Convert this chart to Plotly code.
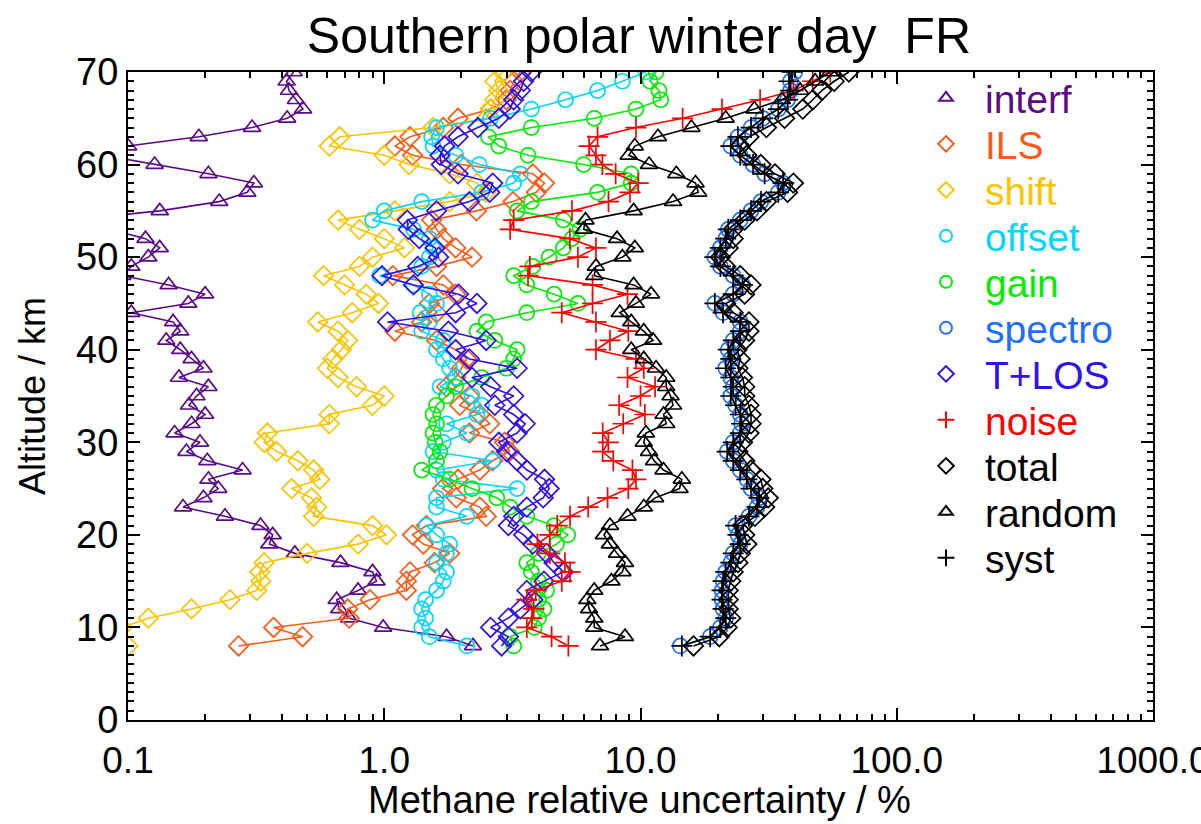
import plotly.graph_objects as go

altitude = list(range(8, 71))

interf = [2.22, 1.75, 0.99, 0.73, 0.667, 0.652, 0.79, 0.933, 0.90, 0.675, 0.448, 0.356, 0.367, 0.329, 0.239,
          0.164, 0.197, 0.225, 0.206, 0.28, 0.204, 0.169, 0.191, 0.152, 0.177, 0.2, 0.173, 0.185, 0.206,
          0.158, 0.197, 0.177, 0.16, 0.141, 0.16, 0.150, 0.103, 0.172, 0.2, 0.144, 0.095, 0.103, 0.120,
          0.133, 0.117, 0.085, 0.06, 0.133, 0.227, 0.292, 0.31, 0.206, 0.127, 0.08, 0.1, 0.189, 0.305,
          0.418, 0.482, 0.452, 0.425, 0.416, 0.443]
ils = [0.27, 0.48, 0.37, 0.73, 0.72, 0.88, 1.22, 1.22, 1.26, 1.57, 1.8, 1.42, 1.29, 1.46, 2.5, 2.36, 1.91,
       1.69, 1.94, 2.36, 2.65, 3.08, 2.95, 2.15, 2.58, 2.36, 1.97, 2.15, 1.75, 1.9, 2.0, 2.1, 1.9, 1.6, 1.1,
       1.4, 1.6, 1.5, 1.9, 1.7, 1.08, 1.6, 2.2, 1.9, 1.7, 1.6, 1.53, 2.29, 3.18, 3.92, 4.22, 3.8, 2.0, 1.29,
       1.10, 1.26, 1.7, 1.94, 2.6, 3.0, 3.1, 3.2, 3.4]
shift = [0.1, 0.09, 0.095, 0.12, 0.177, 0.25, 0.318, 0.33, 0.327, 0.34, 0.5, 0.79, 1.02, 0.9, 0.53, 0.545,
         0.52, 0.435, 0.56, 0.53, 0.46, 0.38, 0.34, 0.35, 0.61, 0.61, 0.9, 1.0, 0.78, 0.66, 0.6, 0.63, 0.68,
         0.72, 0.66, 0.55, 0.75, 0.95, 0.85, 0.7, 0.58, 0.8, 0.9, 1.2, 1.0, 0.8, 0.66, 1.1, 1.8, 2.5, 2.3,
         1.8, 1.25, 1.0, 0.61, 0.67, 1.55, 2.5, 2.6, 2.7, 2.8, 2.7, 2.9]
offset = [2.1, 1.5, 1.4, 1.45, 1.4, 1.45, 1.6, 1.7, 1.75, 1.6, 1.75, 1.8, 1.6, 1.46, 2.1, 1.6, 1.6, 3.3,
          1.7, 1.6, 2.65, 1.55, 1.7, 2.1, 1.75, 2.3, 2.4, 2.2, 1.65, 1.9, 1.8, 1.7, 1.6, 1.7, 1.4, 1.5, 1.38,
          1.6, 1.5, 1.3, 0.96, 1.4, 1.5, 1.55, 1.5, 1.3, 0.9, 1.0, 1.4, 2.4, 3.2, 3.4, 2.35, 1.9, 1.55, 1.53,
          1.6, 2.6, 3.75, 5.1, 6.8, 8.5, 10.5]
gain = [3.2, 3.1, 3.85, 4.0, 4.2, 4.0, 4.3, 4.0, 3.75, 3.6, 4.0, 4.7, 5.2, 4.6, 3.6, 3.1, 2.75, 2.2, 1.8,
        1.4, 1.6, 1.65, 1.58, 1.55, 1.6, 1.55, 1.6, 1.75, 1.9, 2.4, 3.0, 3.2, 3.3, 2.7, 2.3, 2.5, 3.6, 5.7,
        4.6, 3.6, 3.2, 3.8, 4.4, 5.0, 5.4, 5.8, 5.0, 3.3, 3.75, 6.8, 9.2, 9.2, 6.0, 3.64, 2.8, 2.55, 3.75,
        6.6, 9.6, 12.0, 11.8, 10.9, 11.5]
spectro = [14.3, 18.7, 20.5, 21.5, 21.0, 20.8, 20.8, 21.0, 21.5, 22.5, 23.0, 24.5, 24.0, 23.5, 26.5, 28.5,
           29.0, 27.0, 26.0, 24.5, 23.0, 21.8, 23.0, 24.5, 24.8, 24.5, 23.5, 22.5, 23.0, 22.5, 21.5, 22.5,
           22.0, 23.0, 24.5, 24.5, 21.0, 19.5, 23.0, 25.0, 23.0, 20.5, 19.5, 20.5, 21.5, 22.0, 24.5, 27.0,
           29.5, 34.5, 36.0, 30.5, 27.5, 24.5, 22.5, 24.0, 27.0, 30.0, 34.5, 37.5, 38.5, 38.5, 40.0]
tlos = [2.87, 3.05, 2.6, 3.05, 3.4, 3.8, 3.6, 4.2, 5.0, 4.6, 4.3, 3.8, 3.5, 3.05, 3.2, 3.6, 4.17, 4.4, 4.22,
        3.6, 3.3, 3.0, 2.8, 3.3, 3.55, 3.2, 2.7, 3.2, 2.6, 2.2, 3.3, 2.15, 1.9, 2.5, 1.78, 1.03, 1.9, 2.3,
        1.95, 1.3, 0.98, 1.35, 1.63, 1.58, 1.37, 1.24, 1.23, 1.6, 2.15, 2.58, 2.65, 1.94, 1.67, 1.65, 1.72,
        1.94, 2.32, 2.8, 3.1, 3.2, 3.4, 3.5, 3.75]
noise = [5.23, 4.5, 3.6, 3.77, 3.83, 3.6, 3.9, 4.93, 5.31, 5.07, 4.43, 3.96, 4.43, 4.73, 5.31, 6.25, 7.44,
         8.96, 9.6, 9.3, 7.83, 7.12, 7.49, 7.12, 8.56, 10.4, 8.25, 10.0, 11.4, 8.9, 10.3, 9.6, 6.7, 7.6, 8.96,
         6.7, 4.93, 6.5, 8.9, 6.5, 3.64, 3.7, 5.7, 6.7, 5.3, 3.1, 3.2, 5.4, 7.5, 9.1, 9.8, 8.0, 7.1, 6.7, 6.3,
         6.8, 9.6, 14.6, 20.8, 29.3, 39.5, 47.0, 55.0]
total = [16.1, 20.3, 21.8, 22.5, 22.0, 22.0, 22.0, 22.5, 23.0, 24.0, 24.5, 26.0, 25.5, 25.0, 28.0, 30.5, 31.5,
         30.0, 29.5, 27.0, 25.5, 24.0, 25.0, 26.5, 27.0, 27.0, 26.5, 25.5, 25.5, 25.0, 24.0, 24.5, 23.8, 25.5,
         26.5, 26.5, 23.0, 21.5, 25.5, 27.0, 24.5, 21.5, 20.5, 22.0, 23.0, 23.0, 25.5, 28.5, 31.0, 37.5, 39.5,
         33.5, 29.5, 26.0, 24.5, 26.5, 31.0, 36.5, 43.0, 47.0, 51.0, 57.0, 65.0]
random_err = [6.95, 8.7, 6.6, 6.6, 6.3, 6.2, 6.6, 7.7, 8.5, 8.7, 8.1, 7.6, 7.2, 7.6, 8.9, 10.3, 11.4, 14.2,
              14.5, 12.3, 11.3, 10.8, 10.3, 10.5, 12.6, 12.3, 13.4, 13.1, 12.6, 12.6, 11.5, 10.3, 9.2, 11.2,
              10.3, 9.2, 8.3, 9.6, 11.0, 9.4, 6.6, 6.7, 8.5, 9.5, 8.1, 6.0, 6.1, 9.4, 13.4, 16.8, 16.4, 13.8,
              10.8, 9.0, 9.5, 11.7, 15.8, 21.5, 27.8, 35.6, 42.0, 48.0, 55.0]
syst = [14.5, 18.7, 20.5, 21.5, 21.0, 20.8, 20.8, 21.0, 21.5, 22.5, 23.0, 24.5, 24.0, 23.5, 26.5, 28.5, 29.0,
        27.0, 26.0, 24.5, 23.0, 21.8, 23.0, 24.5, 24.8, 24.5, 23.5, 22.5, 23.0, 22.5, 21.5, 22.5, 22.0, 23.0,
        24.5, 24.5, 21.0, 19.5, 23.0, 25.0, 23.0, 20.5, 19.5, 20.5, 21.5, 22.0, 24.5, 27.0, 29.5, 34.5, 36.0,
        30.5, 27.5, 24.5, 22.5, 24.0, 27.0, 30.0, 34.5, 37.5, 38.5, 38.0, 39.0]

x_tick_values = [0.1, 1, 10, 100, 1000]
x_tick_labels = ["0.1", "1.0", "10.0", "100.0", "1000.0"]
y_tick_values = [0, 10, 20, 30, 40, 50, 60, 70]

series = [
    ("interf", interf, "#5C0A8C", "triangle-up-open"),
    ("ILS", ils, "#FF5A14", "diamond-open"),
    ("shift", shift, "#FFC400", "diamond-open"),
    ("offset", offset, "#00D8FF", "circle-open"),
    ("gain", gain, "#00EE00", "circle-open"),
    ("spectro", spectro, "#1E6EFF", "circle-open"),
    ("T+LOS", tlos, "#3010F0", "diamond-open"),
    ("noise", noise, "#FF0000", "cross-thin-open"),
    ("total", total, "#000000", "diamond-open"),
    ("random", random_err, "#000000", "triangle-up-open"),
    ("syst", syst, "#000000", "cross-thin-open"),
]

fig = go.Figure()
for name, vals, col, sym in series:
    fig.add_trace(go.Scatter(
        x=vals, y=altitude, mode="lines+markers", showlegend=False,
        line=dict(color=col, width=1.6),
        marker=dict(symbol=sym, size=15, color=col, line=dict(color=col, width=1.7)),
        cliponaxis=True,
    ))

# one small legend per entry, so the entry spacing can follow the reference
PLOT_TOP, PLOT_H = 72, 648
legend_layout = {}
for i, (name, vals, col, sym) in enumerate(series):
    key = "legend" if i == 0 else f"legend{i + 1}"
    fig.add_trace(go.Scatter(
        x=[None], y=[None], mode="markers", legend=key,
        name=f"<span style='color:{col}'>{name}</span>",
        marker=dict(symbol=sym, size=11, color=col, line=dict(color=col, width=1.6)),
    ))
    y_px = 98 + 46 * i
    legend_layout[key] = dict(
        x=0.760, y=(PLOT_TOP + PLOT_H - y_px) / PLOT_H, xanchor="left", yanchor="middle",
        bgcolor="rgba(0,0,0,0)", font=dict(size=39), itemsizing="constant", itemwidth=68,
    )

minor_x = [m * 10.0 ** e for e in range(-1, 3) for m in range(2, 10)]

fig.update_layout(
    width=1201, height=824,
    paper_bgcolor="white", plot_bgcolor="white",
    margin=dict(l=128, r=48, t=72, b=104, autoexpand=False),
    font=dict(family="Liberation Sans, Arial, sans-serif", color="black", size=34),
    title=dict(text="Southern polar winter day \u00a0FR", x=0.532, xanchor="center",
               y=0.9575, yanchor="middle", font=dict(size=50)),
    showlegend=True,
    annotations=[dict(
        text="Methane relative uncertainty / %", xref="paper", yref="paper",
        x=0.4995, y=(PLOT_TOP + PLOT_H - 800) / PLOT_H, xanchor="center", yanchor="middle",
        showarrow=False, font=dict(size=38), borderpad=0,
    )],
    **legend_layout,
)
fig.update_xaxes(
    type="log", range=[-1, 3], showgrid=False, zeroline=False, automargin=False,
    showline=True, linecolor="black", linewidth=2, mirror="ticks",
    ticks="inside", ticklen=12, tickwidth=2, tickcolor="black",
    tickvals=x_tick_values, ticktext=x_tick_labels,
    ticklabeloverflow="allow", ticklabelstandoff=7,
    minor=dict(tickvals=minor_x, ticks="inside", ticklen=6, tickwidth=1.5, tickcolor="black"),
    tickfont=dict(size=37),
)
fig.update_yaxes(
    range=[0, 70], showgrid=False, zeroline=False, automargin=False,
    showline=True, linecolor="black", linewidth=2, mirror="ticks",
    ticks="inside", ticklen=12, tickwidth=2, tickcolor="black",
    tickvals=y_tick_values,
    minor=dict(dtick=1, ticks="inside", ticklen=6, tickwidth=1.5, tickcolor="black"),
    title=dict(text="Altitude / km", standoff=20, font=dict(size=36)),
    tickfont=dict(size=38),
)

fig.write_html("out.html")
